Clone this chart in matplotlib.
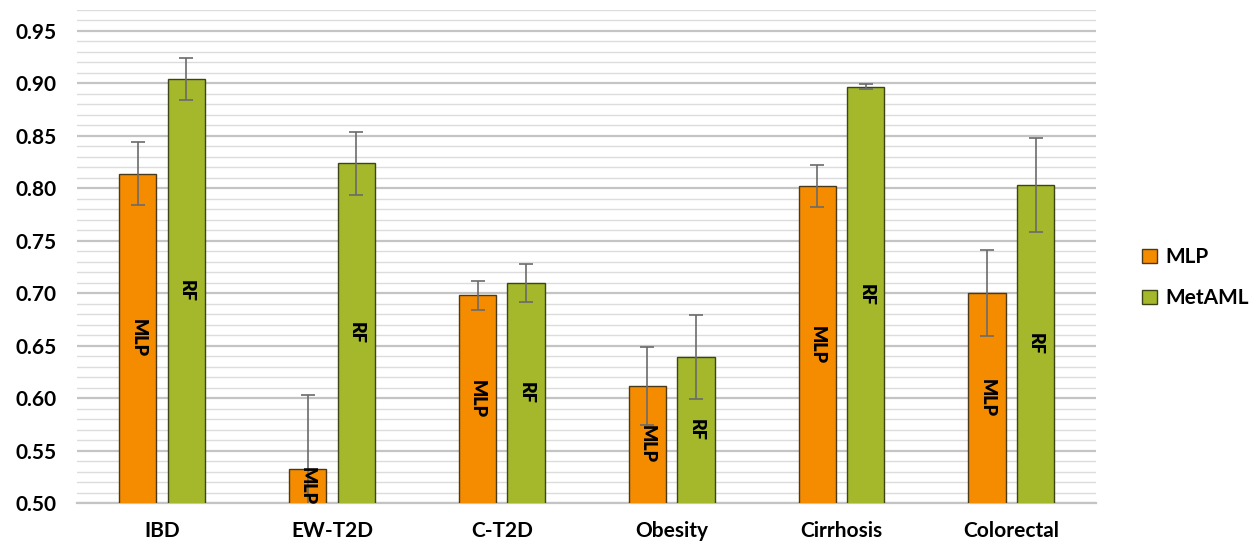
import matplotlib
matplotlib.use("Agg")
import matplotlib.pyplot as plt
import numpy as np
from matplotlib.ticker import MultipleLocator, FormatStrFormatter

categories = ["IBD", "EW-T2D", "C-T2D", "Obesity", "Cirrhosis", "Colorectal"]
mlp_values = [0.814, 0.533, 0.698, 0.612, 0.802, 0.700]
mlp_errors = [0.030, 0.070, 0.014, 0.037, 0.020, 0.041]
metaml_values = [0.904, 0.824, 0.710, 0.639, 0.897, 0.803]
metaml_errors = [0.020, 0.030, 0.018, 0.040, 0.002, 0.045]
series_names = ["MLP", "MetAML"]
bar_texts = ["MLP", "RF"]

FONT = ["Lato", "DejaVu Sans"]
plt.rcParams["font.family"] = FONT

fig = plt.figure(figsize=(12.55, 5.5), dpi=100)
ax = fig.add_axes([0.0615, 0.085, 0.812, 0.897])

x = np.arange(len(categories))
width = 0.22
offset = 0.143
colors = ["#F58C00", "#A5B82B"]
err_kw = dict(ecolor="#6b6b6b", elinewidth=1.2, capsize=5, capthick=1.2)

b1 = ax.bar(x - offset, mlp_values, width, bottom=0, color=colors[0],
            edgecolor="#4a3a1a", linewidth=1.0, yerr=mlp_errors,
            error_kw=err_kw, label=series_names[0], zorder=3)
b2 = ax.bar(x + offset, metaml_values, width, color=colors[1],
            edgecolor="#3c4418", linewidth=1.0, yerr=metaml_errors,
            error_kw=err_kw, label=series_names[1], zorder=3)

ymin, ymax = 0.50, 0.97
ax.set_ylim(ymin, ymax)
ax.set_xlim(-0.5, len(categories) - 0.5)

for bars, vals, txt in [(b1, mlp_values, bar_texts[0]), (b2, metaml_values, bar_texts[1])]:
    for rect, v in zip(bars, vals):
        cx = rect.get_x() + rect.get_width() / 2
        ax.text(cx, (ymin + v) / 2, txt, rotation=-90, ha="center", va="center",
                fontsize=13, fontweight="heavy", color="black", zorder=5)

ax.yaxis.set_major_locator(MultipleLocator(0.05))
ax.yaxis.set_minor_locator(MultipleLocator(0.01))
ax.yaxis.set_major_formatter(FormatStrFormatter("%.2f"))
ax.grid(which="major", axis="y", color="#c4c4c4", linewidth=1.6, zorder=0)
ax.grid(which="minor", axis="y", color="#dcdcdc", linewidth=1.0, zorder=0)
ax.set_axisbelow(True)

for s in ["top", "right", "left"]:
    ax.spines[s].set_visible(False)
ax.spines["bottom"].set_color("#c4c4c4")
ax.spines["bottom"].set_linewidth(1.6)

ax.set_xticks(x)
ax.set_xticklabels(categories, fontsize=15, fontweight="bold")
ax.tick_params(axis="x", length=0, pad=13)
ax.tick_params(axis="y", which="both", length=0, labelsize=15, pad=15)
for lab in ax.get_yticklabels():
    lab.set_fontweight("bold")

leg = fig.legend(handles=[b1, b2], labels=series_names, loc="center left",
                 bbox_to_anchor=(0.895, 0.495), frameon=False,
                 prop=dict(family=FONT, size=15, weight="bold"),
                 handlelength=0.7, handleheight=0.7, labelspacing=1.0,
                 handletextpad=0.4)
for h in leg.legend_handles:
    h.set_linewidth(1.0)

fig.savefig("out.png", dpi=100, facecolor="white")
